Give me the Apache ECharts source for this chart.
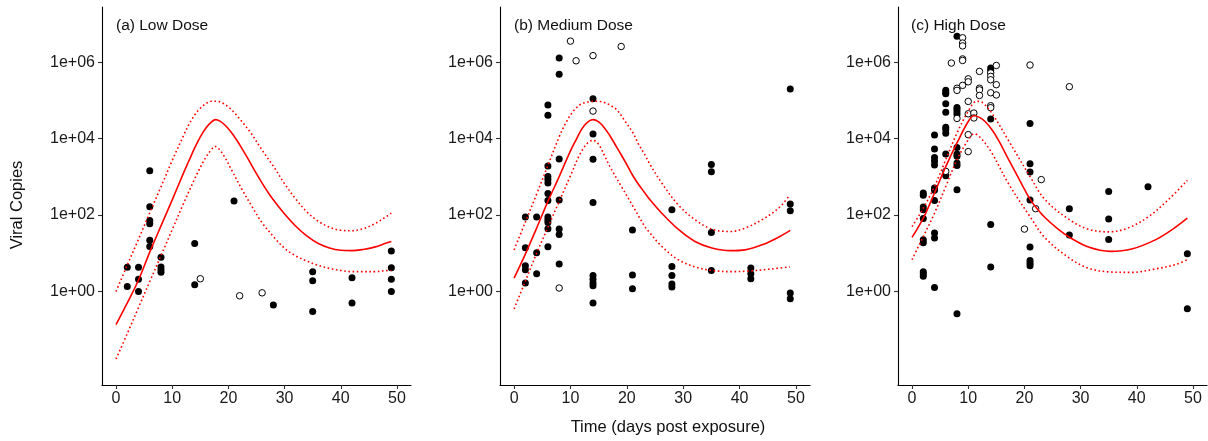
<!DOCTYPE html>
<html><head><meta charset="utf-8">
<script src="https://cdn.jsdelivr.net/npm/echarts@6/dist/echarts.min.js"></script>
<style>html,body{margin:0;padding:0;background:#fff}#c{width:1208px;height:441px}</style>
</head><body><div id="c"></div>
<script>
// ---------- data ----------
const panelTitles = ['(a) Low Dose', '(b) Medium Dose', '(c) High Dose'];
const xTicks = [0, 10, 20, 30, 40, 50];
const yTicks = [1, 100, 10000, 1000000];

// observed (filled) and censored (open) viral copies, [day, copies]
const lowFilled = [[2,4.3],[2,1.35],[4,4.3],[4,2.1],[4,1.0],[6,1450],[6,166],[6,72],[6,59],[6,22],[6,15],[8,7.9],[8,4.4],[8,3.7],[8,3.2],[14,18],[14,1.5],[21,234],[28,0.44],[35,3.3],[35,1.9],[35,0.30],[42,2.3],[42,0.50],[49,11.5],[49,4.2],[49,2.1],[49,1.0]];
const lowOpen = [[15,2.15],[22,0.77],[26,0.92]];

const medFilled = [[2,89],[2,14],[2,4.7],[2,3.7],[2,1.66],[4,89],[4,10.3],[4,2.9],[6,7.6e4],[6,4.1e4],[6,1930],[6,1030],[6,850],[6,690],[6,370],[6,240],[6,89],[6,76],[6,64],[6,44],[6,14.8],[8,1.3e6],[8,4.9e5],[8,2950],[8,250],[8,43],[8,31],[8,5.2],[14,1.12e5],[14,1.33e4],[14,2900],[14,214],[14,2.6],[14,2.1],[14,1.66],[14,1.41],[14,0.5],[21,41],[21,2.7],[21,1.18],[28,138],[28,4.5],[28,2.6],[28,1.56],[28,1.3],[35,2100],[35,1370],[35,35],[35,3.55],[42,4.1],[42,2.9],[42,2.15],[49,2.0e5],[49,195],[49,130],[49,0.91],[49,0.64]];
const medOpen = [[8,1.23],[10,3.6e6],[11,1.1e6],[14,1.5e6],[14,5.3e4],[19,2.6e6]];

const highFilled = [[2,380],[2,330],[2,162],[2,138],[2,82],[2,22.5],[2,19],[2,3.3],[2,2.9],[2,2.5],[4,1.25e4],[4,5400],[4,3200],[4,2600],[4,2050],[4,510],[4,445],[4,240],[4,34],[4,25],[4,1.27],[6,1.85e5],[6,1.6e5],[6,1.5e5],[6,8.3e4],[6,4.9e4],[6,2.0e4],[6,1.74e4],[6,1.4e4],[6,4000],[6,1070],[8,4.8e6],[8,6.6e4],[8,5.8e4],[8,5.0e4],[8,4.3e4],[8,5900],[8,4000],[8,3500],[8,2300],[8,2000],[8,460],[8,0.26],[14,7.1e5],[14,6.2e5],[14,3.3e4],[14,57],[14,4.4],[21,2.5e4],[21,2200],[21,1340],[21,247],[21,14.5],[21,6.5],[21,5.5],[21,4.7],[28,147],[28,30],[35,417],[35,79],[35,23],[42,550],[49,9.7],[49,0.35]];
const highOpen = [[6,1400],[7,9.6e5],[8,2.1e5],[8,1.85e5],[8,3.4e4],[9,4.4e6],[9,3.2e6],[9,2.7e6],[9,1.23e6],[9,1.12e6],[9,2.5e5],[10,3.7e5],[10,3.1e5],[10,9.5e4],[10,4.5e4],[10,1.28e4],[10,4600],[11,4.7e4],[11,3.5e4],[12,5.8e5],[12,2.1e5],[12,1.9e5],[12,1.36e5],[14,5.3e5],[14,4.3e5],[14,3.5e5],[14,1.6e5],[14,7.3e4],[14,6.5e4],[15,8.3e5],[15,2.6e5],[15,1.4e5],[20,43],[21,8.5e5],[22,147],[23,850],[28,2.3e5]];

// fitted curve and its band, [day, copies]
const lowFit = [[0,0.135],[2,0.50],[4,2.0],[6,10.7],[8,52],[10,251],[12,1260],[13,2690],[14,5750],[15,11200],[16,19100],[17,27500],[17.7,31600],[18.5,28800],[19.5,21900],[20.5,14800],[21.5,9120],[22.5,5250],[23.5,2950],[24.5,1620],[25.5,912],[26.5,525],[27.5,316],[28.5,200],[30,107],[32,51],[34,28],[36,18],[38,13.8],[40,12.0],[42,11.7],[44,12.6],[46,14.5],[48,18.2],[49,20.4]];
const lowUpper = [[0,1.0],[2,4.9],[4,23.4],[6,115],[8,550],[10,2690],[12,12000],[13,24000],[14,41700],[15,63000],[16,83000],[17,95500],[18,95500],[19,85100],[20,67600],[21,49000],[22,33100],[24,14100],[26,5010],[28,1910],[30,661],[32,263],[34,120],[36,69],[38,48],[40,40],[42,39],[44,44],[46,59],[48,89],[49,112]];
const lowLower = [[0,0.017],[2,0.079],[4,0.38],[6,1.82],[8,8.7],[10,41.7],[12,200],[14,891],[15,1780],[16,3310],[17,5250],[17.6,6310],[18.5,5010],[19.5,3020],[20.5,1580],[22.5,447],[24.3,158],[26,63],[28,27.5],[30,13.5],[32,8.5],[34,6.2],[36,4.8],[38,4.0],[40,3.55],[42,3.3],[44,3.3],[46,3.3],[48,3.5],[49,3.55]];

const medFit = [[0,2.24],[2,9.5],[4,45.7],[6,229],[8,1020],[10,4790],[11,9330],[12,17800],[13,26900],[14,31600],[15,27500],[16,19500],[17,12000],[18,6760],[19,3800],[20,2090],[21,1120],[22,661],[23.2,380],[24,263],[26.2,112],[29.1,42.7],[32.1,20.4],[35.1,13.8],[38.4,11.7],[41,12.3],[44,16.6],[46.9,26.3],[49,39.8]];
const medUpper = [[0,12.3],[2,66],[4,355],[6,2000],[8,11200],[9.3,28200],[10.5,52500],[11.7,77600],[13,91200],[14.5,95500],[16,89100],[17,75900],[18.2,57500],[19.5,31600],[21.1,14100],[22,7590],[23.2,3800],[24.1,2140],[26.2,692],[29.1,186],[32.1,76],[35.1,42.7],[38.4,37.2],[41,45.7],[44,75.9],[46.9,151],[48.9,331]];
const medLower = [[0,0.35],[2,1.86],[4,10],[6,47.9],[8,229],[10,1070],[11.7,3980],[13,7590],[14,9120],[15,7080],[16,3720],[17,1860],[19,575],[21.1,170],[23.2,50],[24.1,34],[26.2,15.1],[29.1,6.8],[32.1,4.4],[35.1,3.55],[38.6,3.3],[42,3.47],[45.7,3.9],[48.9,4.4]];

const highFit = [[0,26],[2,83],[4,380],[6,1860],[8,7760],[10,28200],[11,39800],[12,36300],[13,28200],[14.2,17400],[15.5,8510],[17.1,3020],[19.5,661],[21,263],[22.3,145],[23.7,85],[26,42.7],[28,26.3],[31.4,14.5],[35.3,11.2],[39.1,12.9],[43.3,22.4],[46.3,41.7],[49,83]];
const highUpper = [[0,50],[2,151],[4,562],[6,2820],[8,14100],[10,52500],[11.5,95500],[12.5,89100],[14.2,46800],[17.1,9330],[21,1020],[23.7,251],[28,76],[31.4,42.7],[35,36.3],[38.4,45.7],[42.1,91],[45.6,251],[49,813]];
const highLower = [[0,6.8],[2,27.5],[4,112],[6,562],[8,2820],[10,9330],[11.1,13500],[12.2,10500],[14.2,4270],[17.1,692],[21,91],[23.7,25.1],[28,7.5],[31.4,4.07],[35.3,3.24],[39.1,3.16],[43.3,3.89],[46.8,5.0],[49,6.8]];

// ---------- chart ----------
const FONT = "'Liberation Sans', Arial, sans-serif";
const panels = [
  {filled: lowFilled, open: lowOpen, fit: lowFit, upper: lowUpper, lower: lowLower},
  {filled: medFilled, open: medOpen, fit: medFit, upper: medUpper, lower: medLower},
  {filled: highFilled, open: highOpen, fit: highFit, upper: highUpper, lower: highLower}
];
const gridLefts = [102, 500, 898];
const gridWidths = [309, 310, 309];
const dayZeroX = [116, 514, 911];

const grids = [], xAxes = [], yAxes = [], series = [], titles = [];
panels.forEach((p, i) => {
  grids.push({left: gridLefts[i], top: 7, width: gridWidths[i], height: 378, containLabel: false});
  xAxes.push({
    type: 'value', gridIndex: i, min: -2.5, max: 52.5,
    axisLine: {show: true, onZero: false, lineStyle: {color: '#000', width: 1.1}},
    axisTick: {show: true, length: 4, customValues: xTicks, lineStyle: {color: '#333', width: 1.1}},
    axisLabel: {customValues: xTicks, margin: 6, fontSize: 16, color: '#1a1a1a', fontFamily: FONT},
    splitLine: {show: false}
  });
  yAxes.push({
    type: 'log', logBase: 10, gridIndex: i, min: Math.pow(10, -2.45), max: Math.pow(10, 7.45),
    axisLine: {show: true, onZero: false, lineStyle: {color: '#000', width: 1.1}},
    axisTick: {show: true, length: 4, customValues: yTicks, lineStyle: {color: '#333', width: 1.1}},
    axisLabel: {customValues: yTicks, margin: 7, fontSize: 16, color: '#1a1a1a', fontFamily: FONT,
      formatter: v => '1e+' + String(Math.round(Math.log10(v))).padStart(2, '0')},
    splitLine: {show: false}
  });
  titles.push({text: panelTitles[i], left: dayZeroX[i], top: 18, padding: 0,
    textStyle: {fontSize: 15.5, fontWeight: 'normal', color: '#111', fontFamily: FONT}});
  series.push({type: 'scatter', xAxisIndex: i, yAxisIndex: i, data: p.filled, symbol: 'circle', symbolSize: 7,
    itemStyle: {color: '#000', opacity: 1}, z: 3, silent: true});
  series.push({type: 'scatter', xAxisIndex: i, yAxisIndex: i, data: p.open, symbol: 'circle', symbolSize: 6.5,
    itemStyle: {color: '#fff', borderColor: '#000', borderWidth: 1, opacity: 1}, z: 3, silent: true});
  series.push({type: 'line', xAxisIndex: i, yAxisIndex: i, data: p.fit, smooth: 0.35, showSymbol: false,
    lineStyle: {color: '#ff0000', width: 1.6}, z: 4, silent: true});
  [p.upper, p.lower].forEach(d => series.push({type: 'line', xAxisIndex: i, yAxisIndex: i, data: d, smooth: 0.35,
    showSymbol: false, lineStyle: {color: '#ff0000', width: 1.6, type: [1.6, 2.6], cap: 'butt'}, z: 4, silent: true}));
});

const chart = echarts.init(document.getElementById('c'), null, {renderer: 'canvas'});
chart.setOption({
  animation: false,
  backgroundColor: '#fff',
  title: titles,
  grid: grids,
  xAxis: xAxes,
  yAxis: yAxes,
  series: series,
  graphic: [
    {type: 'text', x: 17, y: 205, rotation: Math.PI / 2,
      style: {text: 'Viral Copies', align: 'center', verticalAlign: 'middle', fontSize: 16.5, fill: '#111', fontFamily: FONT}},
    {type: 'text', x: 668, y: 427,
      style: {text: 'Time (days post exposure)', align: 'center', verticalAlign: 'middle', fontSize: 16.5, fill: '#111', fontFamily: FONT}}
  ]
});
</script></body></html>
